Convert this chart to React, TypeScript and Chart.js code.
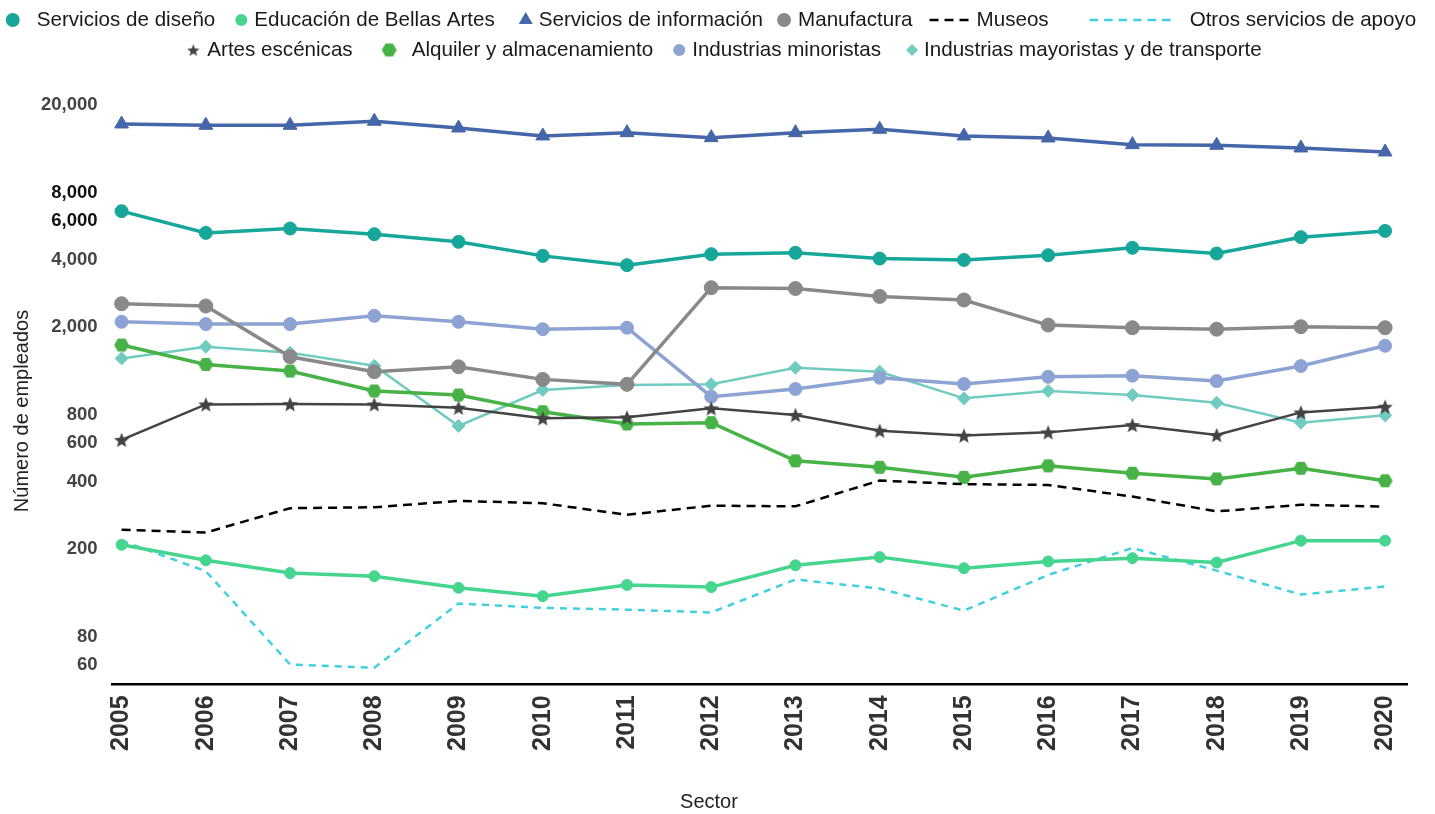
import React, { useEffect, useRef } from 'react';
import { Chart, registerables } from 'chart.js';

Chart.register(...registerables);

const FONT = '"Liberation Sans", Arial, Helvetica, sans-serif';

const years = [2005, 2006, 2007, 2008, 2009, 2010, 2011, 2012, 2013, 2014, 2015, 2016, 2017, 2018, 2019, 2020];
const yTickValues = [60, 80, 200, 400, 600, 800, 2000, 4000, 6000, 8000, 20000];

const xAxisTitle = 'Sector';
const yAxisTitle = 'Número de empleados';

const seriesNames = [
  'Servicios de diseño',
  'Educación de Bellas Artes',
  'Servicios de información',
  'Manufactura',
  'Museos',
  'Otros servicios de apoyo',
  'Artes escénicas',
  'Alquiler y almacenamiento',
  'Industrias minoristas',
  'Industrias mayoristas y de transporte',
];

const serviciosDiseno = [6640, 5300, 5545, 5230, 4830, 4175, 3790, 4250, 4310, 4060, 4000, 4205, 4540, 4280, 5070, 5410];
const educacionBellasArtes = [208, 177, 155, 150, 133, 122, 137, 134, 168, 183, 163, 175, 181, 173, 217, 217];
const serviciosInformacion = [16420, 16200, 16200, 16890, 15750, 14500, 15000, 14250, 15000, 15540, 14500, 14200, 13250, 13160, 12800, 12280];
const manufactura = [2540, 2480, 1465, 1254, 1320, 1158, 1100, 3000, 2975, 2740, 2640, 2035, 1980, 1950, 2000, 1980];
const museos = [243, 236, 304, 307, 328, 320, 284, 312, 310, 405, 390, 387, 343, 294, 315, 309];
const otrosServicios = [217, 158, 60, 58, 113, 108, 106, 103, 145, 132, 105, 152, 201, 159, 124, 135];
const artesEscenicas = [618, 893, 896, 893, 863, 773, 781, 857, 800, 680, 646, 668, 721, 650, 822, 872];
const alquilerAlmacenamiento = [1654, 1352, 1263, 1027, 985, 828, 729, 739, 497, 465, 419, 472, 437, 412, 460, 404];
const industriasMinoristas = [2105, 2056, 2056, 2240, 2105, 1950, 1980, 968, 1048, 1178, 1104, 1190, 1203, 1138, 1330, 1642];
const industriasMayoristas = [1440, 1625, 1527, 1334, 714, 1037, 1093, 1100, 1307, 1254, 951, 1027, 985, 909, 739, 797];

const seriesValues = [
  serviciosDiseno,
  educacionBellasArtes,
  serviciosInformacion,
  manufactura,
  museos,
  otrosServicios,
  artesEscenicas,
  alquilerAlmacenamiento,
  industriasMinoristas,
  industriasMayoristas,
];

const colors = ['#17a79a', '#45d58e', '#4566a9', '#898989', '#000000', '#41d0de', '#434343', '#47b347', '#8ca3d3', '#70cbc1'];

function makeStar(color: string, rOuter: number, rInner: number) {
  const size = Math.ceil(rOuter * 2 + 2);
  const c = document.createElement('canvas');
  c.width = size;
  c.height = size;
  const g = c.getContext('2d')!;
  g.fillStyle = color;
  g.beginPath();
  for (let k = 0; k < 10; k++) {
    const r = k % 2 === 0 ? rOuter : rInner;
    const a = -Math.PI / 2 + (k * Math.PI) / 5;
    const px = size / 2 + r * Math.cos(a);
    const py = size / 2 + 0.8 + r * Math.sin(a);
    if (k === 0) g.moveTo(px, py);
    else g.lineTo(px, py);
  }
  g.closePath();
  g.fill();
  return c;
}

function makeHex(color: string, r: number) {
  const size = Math.ceil(r * 2 + 2);
  const c = document.createElement('canvas');
  c.width = size;
  c.height = size;
  const g = c.getContext('2d')!;
  g.fillStyle = color;
  g.beginPath();
  for (let k = 0; k < 6; k++) {
    const a = (k * Math.PI) / 3;
    const px = size / 2 + r * Math.cos(a);
    const py = size / 2 + r * Math.sin(a);
    if (k === 0) g.moveTo(px, py);
    else g.lineTo(px, py);
  }
  g.closePath();
  g.fill();
  return c;
}

// legend layout styles: marker kind, marker width, gap to text, gap before item
const legendRows = [[0, 1, 2, 3, 4, 5], [6, 7, 8, 9]];
const legendRowCenters = [711, 724.5];
const legendRowY = [20, 50];
const legendStyle = [
  { kind: 'circle', w: 14, tg: 17, gb: 0 },
  { kind: 'circle', w: 12, tg: 7, gb: 20 },
  { kind: 'triangle', w: 14, tg: 6, gb: 24 },
  { kind: 'circle', w: 14, tg: 7, gb: 14 },
  { kind: 'dash', w: 40, tg: 7, gb: 17, dash: [9, 6] },
  { kind: 'dash', w: 82, tg: 18, gb: 41, dash: [8.5, 6] },
  { kind: 'star', w: 12, tg: 8, gb: 0 },
  { kind: 'hex', w: 15, tg: 15, gb: 29 },
  { kind: 'circle', w: 12, tg: 7, gb: 20 },
  { kind: 'diamond', w: 12, tg: 6, gb: 25 },
];

export default function App() {
  const ref = useRef<HTMLCanvasElement | null>(null);

  useEffect(() => {
    document.body.style.margin = '0';
    const canvas = ref.current;
    if (!canvas) return;

    const starImg = makeStar(colors[6], 8, 3.5);
    const hexImg = makeHex(colors[7], 7.5);
    const starLegend = makeStar(colors[6], 6.5, 2.8);
    const hexLegend = makeHex(colors[7], 7.5);

    const pts = (vals: number[]) => years.map((x, i) => ({ x, y: vals[i] }));

    const base = (i: number) => ({
      label: seriesNames[i],
      data: pts(seriesValues[i]),
      borderColor: colors[i],
      backgroundColor: colors[i],
      pointBackgroundColor: colors[i],
      pointBorderColor: colors[i],
      pointBorderWidth: 1,
      tension: 0,
      fill: false,
    });

    const datasets: any[] = [
      { ...base(0), borderWidth: 3.5, pointStyle: 'circle', pointRadius: 6.5 },
      { ...base(1), borderWidth: 3.5, pointStyle: 'circle', pointRadius: 5.5 },
      { ...base(2), borderWidth: 3.5, pointStyle: 'triangle', pointRadius: 8 },
      { ...base(3), borderWidth: 3.5, pointStyle: 'circle', pointRadius: 7 },
      { ...base(4), borderWidth: 2.5, borderDash: [9, 6], pointRadius: 0 },
      { ...base(5), borderWidth: 2.5, borderDash: [7, 6], pointRadius: 0 },
      { ...base(6), borderWidth: 2.5, pointStyle: starImg, pointRadius: 8 },
      { ...base(7), borderWidth: 3.5, pointStyle: hexImg, pointRadius: 7 },
      { ...base(8), borderWidth: 3.5, pointStyle: 'circle', pointRadius: 6.5 },
      { ...base(9), borderWidth: 2.5, pointStyle: 'rectRot', pointRadius: 6.5 },
    ];

    const legendPlugin = {
      id: 'customLegend',
      afterDraw(chart: any) {
        const ctx = chart.ctx as CanvasRenderingContext2D;
        ctx.save();
        // axis titles
        ctx.fillStyle = '#222222';
        ctx.font = `20px ${FONT}`;
        ctx.textAlign = 'center';
        ctx.textBaseline = 'middle';
        ctx.fillText(xAxisTitle, 709, 802);
        ctx.save();
        ctx.translate(22, 411);
        ctx.rotate(-Math.PI / 2);
        ctx.fillText(yAxisTitle, 0, 0);
        ctx.restore();

        ctx.font = `20.6px ${FONT}`;
        ctx.textBaseline = 'middle';
        ctx.textAlign = 'left';
        legendRows.forEach((row, ri) => {
          let total = 0;
          row.forEach((idx, k) => {
            const st = legendStyle[idx];
            total += (k === 0 ? 0 : st.gb) + st.w + st.tg + ctx.measureText(seriesNames[idx]).width;
          });
          let x = legendRowCenters[ri] - total / 2;
          const y = legendRowY[ri];
          row.forEach((idx, k) => {
            const st: any = legendStyle[idx];
            if (k > 0) x += st.gb;
            const cx = x + st.w / 2;
            const col = colors[idx];
            ctx.fillStyle = col;
            ctx.strokeStyle = col;
            ctx.setLineDash([]);
            if (st.kind === 'circle') {
              ctx.beginPath();
              ctx.arc(cx, y, st.w / 2, 0, Math.PI * 2);
              ctx.fill();
            } else if (st.kind === 'triangle') {
              const r = st.w / Math.sqrt(3);
              ctx.beginPath();
              ctx.moveTo(cx, y - r);
              ctx.lineTo(cx + st.w / 2, y + r / 2);
              ctx.lineTo(cx - st.w / 2, y + r / 2);
              ctx.closePath();
              ctx.fill();
            } else if (st.kind === 'diamond') {
              const r = st.w / 2;
              ctx.beginPath();
              ctx.moveTo(cx, y - r);
              ctx.lineTo(cx + r, y);
              ctx.lineTo(cx, y + r);
              ctx.lineTo(cx - r, y);
              ctx.closePath();
              ctx.fill();
            } else if (st.kind === 'star') {
              ctx.drawImage(starLegend, cx - starLegend.width / 2, y - starLegend.height / 2);
            } else if (st.kind === 'hex') {
              ctx.drawImage(hexLegend, cx - hexLegend.width / 2, y - hexLegend.height / 2);
            } else if (st.kind === 'dash') {
              ctx.lineWidth = 2.5;
              ctx.setLineDash(st.dash);
              ctx.beginPath();
              ctx.moveTo(x, y);
              ctx.lineTo(x + st.w, y);
              ctx.stroke();
              ctx.setLineDash([]);
            }
            x += st.w + st.tg;
            ctx.fillStyle = '#1a1a1a';
            ctx.fillText(seriesNames[idx], x, y);
            x += ctx.measureText(seriesNames[idx]).width;
          });
        });
        ctx.restore();
      },
    };

    const chart = new Chart(canvas, {
      type: 'line',
      data: { datasets },
      options: {
        animation: false,
        responsive: false,
        maintainAspectRatio: false,
        layout: { padding: { top: 71, left: 26, right: 28, bottom: 52 } },
        plugins: {
          legend: { display: false },
          tooltip: { enabled: false },
        },
        scales: {
          x: {
            type: 'linear',
            min: 2004.893,
            max: 2020.26,
            grid: { display: false, drawTicks: false },
            border: { display: true, color: '#000000', width: 2.5 },
            afterBuildTicks: (s: any) => {
              s.ticks = years.map((v) => ({ value: v }));
            },
            ticks: {
              autoSkip: false,
              minRotation: 90,
              maxRotation: 90,
              padding: 11,
              color: '#333333',
              font: { size: 25, weight: 'bold', family: FONT },
              callback: (v: any) => String(v),
            },
            title: { display: false },
          },
          y: {
            type: 'logarithmic',
            min: 48.8,
            max: 28460,
            grid: { display: false, drawTicks: false },
            border: { display: false },
            afterBuildTicks: (s: any) => {
              s.ticks = yTickValues.map((v) => ({ value: v }));
            },
            ticks: {
              autoSkip: false,
              padding: 15,
              color: (c: any) => (c.tick && (c.tick.value === 6000 || c.tick.value === 8000) ? '#111111' : '#444444'),
              font: { size: 18.5, weight: 'bold', family: FONT },
              callback: (v: any) => Number(v).toLocaleString('en-US'),
            },
            title: { display: false },
          },
        },
      } as any,
      plugins: [legendPlugin],
    });

    return () => chart.destroy();
  }, []);

  return (
    <div style={{ width: 1435, height: 814, background: '#ffffff' }}>
      <canvas ref={ref} width={1435} height={814} style={{ display: 'block' }} />
    </div>
  );
}
